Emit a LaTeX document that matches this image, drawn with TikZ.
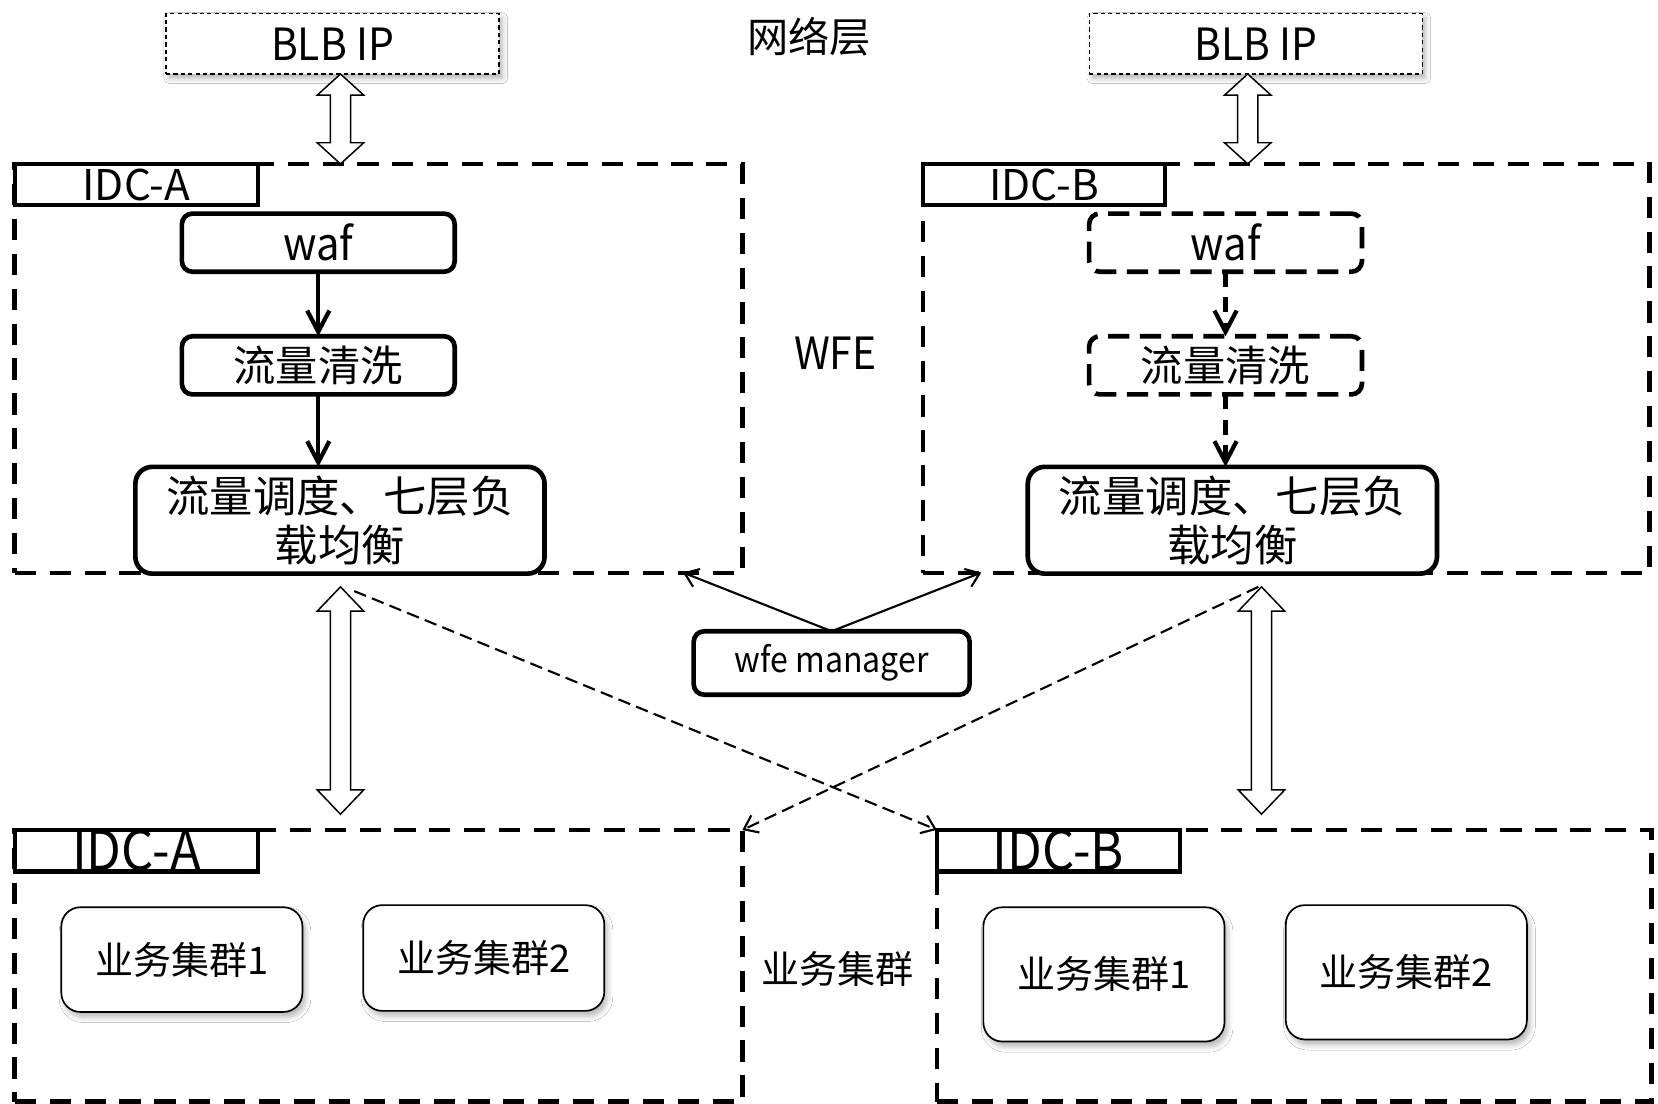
\documentclass[tikz,border=0pt]{standalone}
\usepackage{fontspec}
\setmainfont{Noto Sans CJK SC}
\newfontfamily\condfont[FakeStretch=0.92]{Noto Sans CJK SC}
\usetikzlibrary{arrows.meta,shadows.blur}
\newcommand\hollowdbl[4]{% x, ytop, ybot, headlen
  \draw[hollowarr] (#1,#2) -- (#1+22,#2+#4) -- (#1+9.5,#2+#4) -- (#1+9.5,#3-#4)
    -- (#1+22,#3-#4) -- (#1,#3) -- (#1-22,#3-#4) -- (#1-9.5,#3-#4)
    -- (#1-9.5,#2+#4) -- (#1-22,#2+#4) -- cycle;}
\begin{document}
\begin{tikzpicture}[x=0.5pt,y=-0.5pt,
  every node/.style={inner sep=0pt,outer sep=0pt},
  frame/.style={draw,line width=2.2pt,dash pattern=on 10pt off 6.5pt},
  tagbox/.style={draw,line width=2pt,fill=white,minimum width=115pt,minimum height=19.5pt,font=\fontsize{20}{22}\selectfont},
  blbbox/.style={draw,line width=0.6pt,dash pattern=on 2pt off 1.5pt,fill=white,minimum width=157.5pt,minimum height=28.5pt,
    blur shadow={shadow xshift=1.5pt,shadow yshift=-2pt,shadow blur radius=2.5pt,shadow opacity=30},font=\condfont\fontsize{21}{24}\selectfont},
  stepbox/.style={draw,line width=2.2pt,rounded corners=5pt,fill=white,minimum width=129pt,minimum height=27.5pt},
  dstepbox/.style={stepbox,dash pattern=on 10pt off 5pt},
  lbbox/.style={draw,line width=2.2pt,rounded corners=8pt,fill=white,minimum width=193.5pt,minimum height=50.5pt,
    align=center,font=\fontsize{20.5}{23}\selectfont},
  svcbox/.style={draw,line width=0.8pt,rounded corners=9pt,fill=white,minimum width=114pt,
    blur shadow={shadow xshift=1.5pt,shadow yshift=-2.5pt,shadow blur radius=2.5pt,shadow opacity=28},font=\fontsize{18}{20}\selectfont},
  hollowarr/.style={draw,line width=0.7pt,fill=white,line join=miter},
  flow/.style={line width=2pt,-{Straight Barb[length=10pt,width=10.5pt,line width=2pt]}},
  dflow/.style={flow,dash pattern=on 7pt off 5pt},
  thinarr/.style={line width=1pt,-{Straight Barb[length=6pt,width=9pt,line width=1pt]}},
  dthinarr/.style={thinarr,dash pattern=on 6pt off 3pt},
  plain/.style={font=\condfont\fontsize{21}{24}\selectfont}
]
\useasboundingbox (0,0) rectangle (1568,1044);
\fill[white] (0,0) rectangle (1568,1044);

% top labels
\node[font=\fontsize{19.5}{22}\selectfont] (net) at (765,35) {网络层};
\node[blbbox] (blbA) at (314.5,41.5) {BLB IP};
\node[blbbox] (blbB) at (1187.5,41.5) {BLB IP};

% WFE frames
\node[frame,minimum width=344pt,minimum height=193.5pt] (fAt) at (358,348.5) {};
\node[frame,minimum width=343.5pt,minimum height=193.5pt] (fBt) at (1216.5,348.5) {};
\node[tagbox] (tAt) at (129,174.5) {IDC-A};
\node[tagbox,minimum width=114.5pt] (tBt) at (987.5,174.5) {IDC-B};
\node[plain] (wfe) at (790,334) {WFE};

% left WFE chain
\node[stepbox,font=\condfont\fontsize{21.5}{24}\selectfont] (wafA) at (301,229.5) {waf};
\node[stepbox,font=\fontsize{20}{22}\selectfont] (clnA) at (301,345.5) {流量清洗};
\node[lbbox] (lbA) at (321.5,492) {流量调度、七层负\\载均衡};
\draw[flow] (wafA.south) -- (clnA.north);
\draw[flow] (clnA.south) -- (lbA.north -| clnA.south);

% right WFE chain
\node[dstepbox,font=\condfont\fontsize{21.5}{24}\selectfont] (wafB) at (1159,229.5) {waf};
\node[dstepbox,font=\fontsize{20}{22}\selectfont] (clnB) at (1159,345.5) {流量清洗};
\node[lbbox] (lbB) at (1165.5,492) {流量调度、七层负\\载均衡};
\draw[dflow] (wafB.south) -- (clnB.north);
\draw[dflow] (clnB.south) -- (lbB.north -| clnB.south);

% hollow double arrows
\hollowdbl{322}{70}{155}{20}
\hollowdbl{1180}{70}{155}{20}
\hollowdbl{322}{555}{770}{23}
\hollowdbl{1193}{555}{770}{23}

% wfe manager
\node[draw,line width=2.2pt,rounded corners=5pt,fill=white,minimum width=130.5pt,minimum height=30pt,
  font=\condfont\fontsize{16.5}{18}\selectfont] (mgr) at (786.5,627) {wfe manager};
\coordinate (mA) at (646,541.5);
\coordinate (mB) at (928,541.5);
\draw[thinarr] (mgr.north) -- (mA);
\draw[thinarr] (mgr.north) -- (mB);

% service frames
\node[frame,minimum width=344pt,minimum height=128.5pt] (fAb) at (358,913.5) {};
\node[frame,minimum width=338pt,minimum height=128.5pt] (fBb) at (1224,913.5) {};
\node[tagbox,font=\condfont\fontsize{26}{28}\selectfont] (tAb) at (129,804.5) {IDC-A};
\node[tagbox,font=\condfont\fontsize{26}{28}\selectfont] (tBb) at (1001,804.5) {IDC-B};
\node[font=\fontsize{18}{20}\selectfont] (svc) at (792,916) {业务集群};

\node[svcbox,minimum height=49.5pt] (sA1) at (172,907.5) {业务集群1};
\node[svcbox,minimum height=50pt] (sA2) at (457.5,906) {业务集群2};
\node[svcbox,minimum height=63.5pt] (sB1) at (1044,921.5) {业务集群1};
\node[svcbox,minimum height=63.5pt] (sB2) at (1330,919.5) {业务集群2};

% cross dashed arrows
\coordinate (cA) at (335,559);
\coordinate (cB) at (1190,555);
\draw[dthinarr] (cA) -- (tBb.north west);
\draw[dthinarr] (cB) -- (fAb.north east);
\end{tikzpicture}
\end{document}
